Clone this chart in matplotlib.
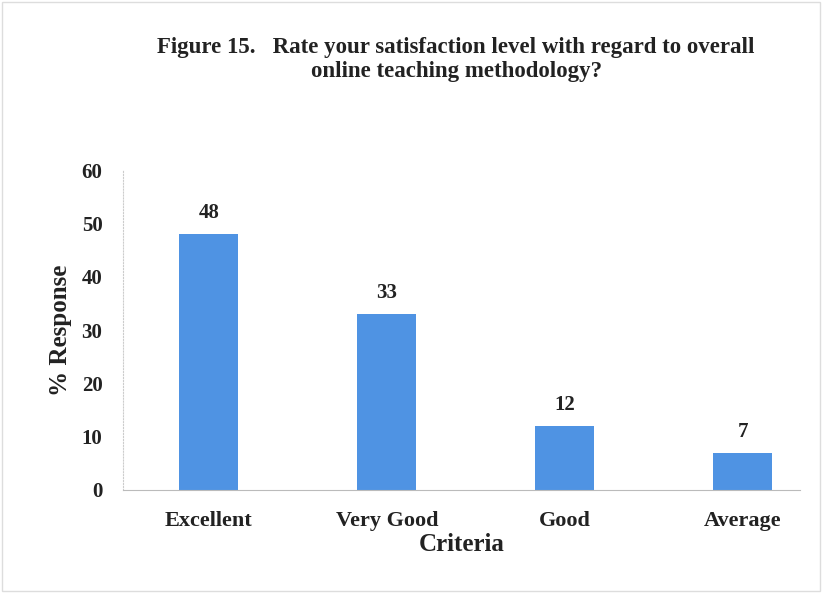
import matplotlib.pyplot as plt

categories = ['Excellent', 'Very Good', 'Good', 'Average']
response = [48, 33, 12, 7]
y_ticks = [0, 10, 20, 30, 40, 50, 60]

plt.rcParams['font.family'] = ['Liberation Serif', 'DejaVu Serif']
plt.rcParams['font.weight'] = 'bold'

fig = plt.figure(figsize=(8.22, 5.93), dpi=100)
ax = fig.add_axes([0.150, 0.174, 0.823, 0.539])

x = range(len(categories))
bars = ax.bar(x, response, width=0.33, color='#4f93e3')
for xi, v in zip(x, response):
    ax.text(xi, v + 2.0, str(v), ha='center', va='bottom', fontsize=15, fontweight='bold', color='#222222')

ax.set_xlim(-0.48, 3.32)
ax.set_ylim(0, 60)
ax.set_yticks(y_ticks)
ax.set_xticks(list(x))
ax.set_xticklabels(categories, fontsize=16, fontweight='bold', color='#222222')
ax.tick_params(axis='y', labelsize=15, colors='#222222', length=0, pad=15)
ax.tick_params(axis='x', length=0, pad=15)
for lbl in ax.get_yticklabels():
    lbl.set_fontweight('bold')

ax.spines['top'].set_visible(False)
ax.spines['right'].set_visible(False)
ax.spines['left'].set_color('#cccccc')
ax.spines['left'].set_linestyle(':')
ax.spines['bottom'].set_color('#bbbbbb')

ax.set_ylabel('% Response', fontsize=18, fontweight='bold', color='#222222', labelpad=7)
ax.set_xlabel('Criteria', fontsize=18, fontweight='bold', color='#222222', labelpad=2)

fig.text(0.555, 0.9, 'Figure 15.   Rate your satisfaction level with regard to overall\nonline teaching methodology?',
         ha='center', va='center', fontsize=16.5, fontweight='bold', color='#222222', linespacing=1.15)

fig.patches.append(plt.Rectangle((0.003, 0.003), 0.994, 0.994, transform=fig.transFigure,
                                 fill=False, edgecolor='#dddddd', linewidth=1))

fig.savefig('out.png', dpi=100)
